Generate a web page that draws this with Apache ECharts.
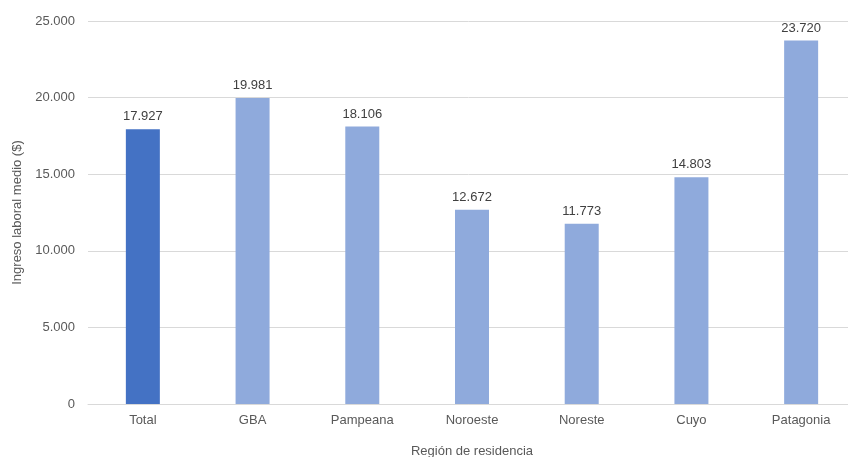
<!DOCTYPE html>
<html>
<head>
<meta charset="utf-8">
<script src="https://cdn.jsdelivr.net/npm/echarts@6/dist/echarts.min.js"></script>
<style>
  html, body { margin: 0; padding: 0; background: #fff; }
  #chart { width: 848px; height: 457px; }
</style>
</head>
<body>
<div id="chart"></div>
<script>
// regiones y ingreso medio
var regiones = ['Total', 'GBA', 'Pampeana', 'Noroeste', 'Noreste', 'Cuyo', 'Patagonia'];
var ingresos = [17927, 19981, 18106, 12672, 11773, 14803, 23720];
var yTicks = [0, 5000, 10000, 15000, 20000, 25000];

var fontColor = '#595959';
var fmt = function (v) {
    return String(v).replace(/\B(?=(\d{3})+(?!\d))/g, '.');
};

var myChart = echarts.init(document.getElementById('chart'));
var option = {
    animation: false,
    textStyle: { fontFamily: 'Liberation Sans, Arial, sans-serif' },
    grid: {
        left: 88,
        top: 21,
        width: 768,
        height: 383,
        containLabel: false,
        outerBoundsMode: 'none'
    },
    xAxis: {
        type: 'category',
        data: regiones,
        name: 'Región de residencia',
        nameLocation: 'middle',
        nameGap: 41,
        nameTextStyle: { color: fontColor, fontSize: 13 },
        axisLine: { lineStyle: { color: '#d9d9d9', width: 1 } },
        axisTick: { show: false },
        axisLabel: { color: fontColor, fontSize: 13, margin: 10 }
    },
    yAxis: {
        type: 'value',
        min: yTicks[0],
        max: yTicks[yTicks.length - 1],
        interval: 5000,
        name: 'Ingreso laboral medio ($)',
        nameLocation: 'middle',
        nameGap: 64,
        nameTextStyle: { color: fontColor, fontSize: 13 },
        axisLine: { show: false },
        axisTick: { show: false },
        axisLabel: {
            color: fontColor,
            fontSize: 13,
            margin: 13,
            formatter: function (v) { return fmt(v); }
        },
        splitLine: { lineStyle: { color: '#d9d9d9', width: 1 } }
    },
    series: [{
        type: 'bar',
        barWidth: 34,
        data: ingresos.map(function (v, i) {
            return {
                value: v,
                itemStyle: { color: i === 0 ? '#4472c4' : '#8faadc' }
            };
        }),
        label: {
            show: true,
            position: 'top',
            distance: 6,
            color: '#404040',
            fontSize: 13,
            formatter: function (p) { return fmt(p.value); }
        }
    }]
};
myChart.setOption(option);
</script>
</body>
</html>
